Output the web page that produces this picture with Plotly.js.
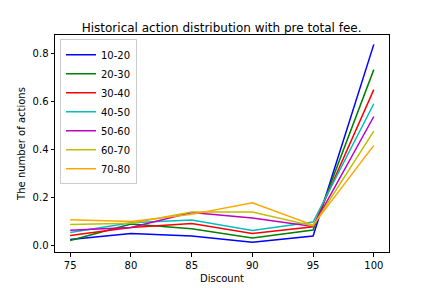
<!DOCTYPE html>
<html><head><meta charset="utf-8">
<script src="https://cdn.plot.ly/plotly-3.0.1.min.js"></script>
<style>html,body{margin:0;padding:0;background:#fff}#c{width:432px;height:288px}</style>
</head><body><div id="c"></div>
<script>
const discount = [75, 80, 85, 90, 95, 100];
const seriesNames = ["10-20", "20-30", "30-40", "40-50", "50-60", "60-70", "70-80"];
const s1020 = [0.025, 0.050, 0.040, 0.014, 0.040, 0.837];
const s2030 = [0.021, 0.090, 0.070, 0.032, 0.065, 0.732];
const s3040 = [0.042, 0.075, 0.092, 0.050, 0.078, 0.649];
const s4050 = [0.055, 0.095, 0.107, 0.063, 0.098, 0.590];
const s5060 = [0.064, 0.075, 0.138, 0.115, 0.080, 0.537];
const s6070 = [0.088, 0.093, 0.140, 0.140, 0.082, 0.476];
const s7080 = [0.108, 0.100, 0.130, 0.178, 0.085, 0.417];
const allSeries = [s1020, s2030, s3040, s4050, s5060, s6070, s7080];
const colors = ["#0000ff", "#008000", "#ff0000", "#00bfbf", "#bf00bf", "#bfbf00", "#ffa500"];

const traces = allSeries.map((ys, i) => ({
  x: discount, y: ys, name: seriesNames[i], type: "scatter", mode: "lines",
  line: {color: colors[i], width: 1.5}
}));

const font = {family: "DejaVu Sans", size: 10, color: "#000"};
const layout = {
  width: 432, height: 288,
  margin: {l: 55, r: 43, t: 35, b: 36},
  paper_bgcolor: "#fff", plot_bgcolor: "#fff",
  font: font,
  title: {text: "Historical action distribution with pre total fee.", font: {family: "DejaVu Sans", size: 12, color: "#000"}, x: 0.513, xanchor: "center", y: 0.905, yanchor: "middle"},
  xaxis: {
    range: [73.75, 101.25], tickvals: discount, ticktext: discount.map(String),
    showgrid: false, zeroline: false, showline: true, linecolor: "#000", linewidth: 1, mirror: true,
    ticks: "outside", ticklen: 3.5, tickwidth: 1, tickcolor: "#000",
    title: {text: "Discount", font: font, standoff: 5}
  },
  yaxis: {
    range: [-0.0265, 0.876], tickvals: [0, 0.2, 0.4, 0.6, 0.8], ticktext: ["0.0", "0.2", "0.4", "0.6", "0.8"],
    showgrid: false, zeroline: false, showline: true, linecolor: "#000", linewidth: 1, mirror: true,
    ticks: "outside", ticklen: 3.5, tickwidth: 1, tickcolor: "#000",
    title: {text: "The number of actions", font: font, standoff: 5}
  },
  showlegend: true,
  legend: {x: 0.015, y: 0.98, xanchor: "left", yanchor: "top", bgcolor: "rgba(255,255,255,0.8)", bordercolor: "#cccccc", borderwidth: 1, font: font, tracegroupgap: 0, itemwidth: 30}
};
Plotly.newPlot("c", traces, layout, {displayModeBar: false, staticPlot: true});
</script></body></html>
